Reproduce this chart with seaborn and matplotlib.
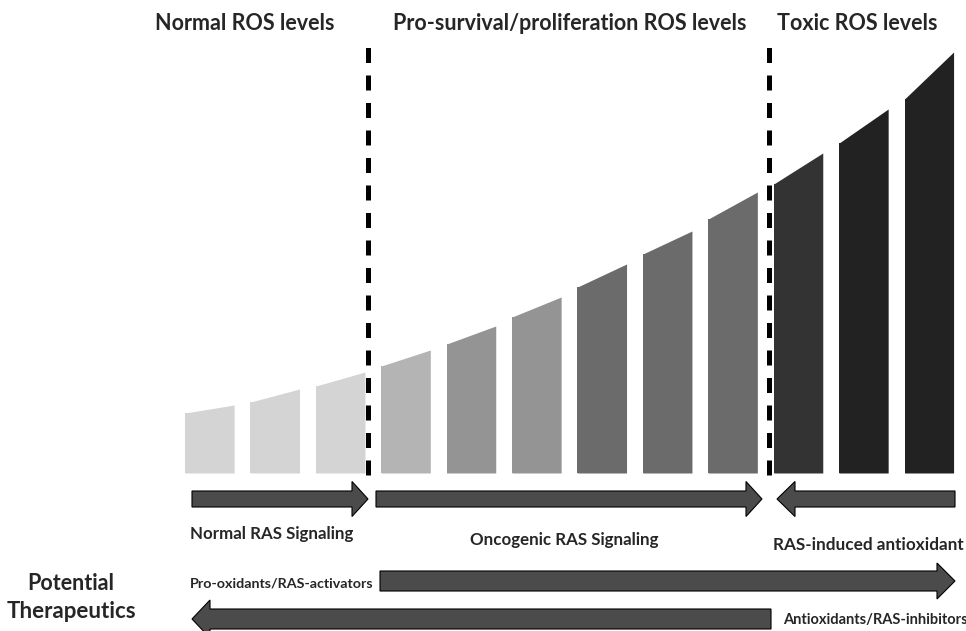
import numpy as np
import matplotlib.pyplot as plt
import seaborn as sns
from matplotlib.patches import FancyArrow

# niveles de ROS (alto del borde izquierdo y derecho de cada barra)
etapas = [str(i) for i in range(1, 13)]
ros_izq = [60, 71, 87, 107, 129, 156, 186, 219, 254, 289, 330, 374]
ros_der = [68, 84, 101, 123, 147, 176, 209, 242, 281, 320, 364, 421]
colores = ["#d4d4d4", "#d4d4d4", "#d4d4d4", "#b4b4b4", "#949494", "#949494",
           "#6b6b6b", "#6b6b6b", "#6b6b6b", "#333333", "#222222", "#222222"]

titulos = ["Normal ROS levels", "Pro-survival/proliferation ROS levels", "Toxic ROS levels"]
limites_fase = [2.42, 8.55]

sns.set_theme(style="white")
plt.rcParams["font.family"] = ["Lato", "DejaVu Sans"]

fig = plt.figure(figsize=(9.66, 6.31), dpi=100)

# barras
ax = fig.add_axes([0.1831, 0.2504, 0.8125, 0.6973])
ancho = 0.75
sns.barplot(x=etapas, y=np.minimum(ros_izq, ros_der), hue=etapas, palette=colores,
            legend=False, width=ancho, saturation=1, linewidth=0, ax=ax)
for i, (hl, hr) in enumerate(zip(ros_izq, ros_der)):
    ax.fill_between([i - ancho / 2, i + ancho / 2], [0, 0], [hl, hr],
                    color=colores[i], linewidth=0)
ax.set_xlim(-0.5, 11.5)
ax.set_ylim(0, 440)
ax.axis("off")

# lineas punteadas entre fases
for xl in limites_fase:
    ax.plot([xl, xl], [-2, 428], color="black", lw=3.6, dashes=(3, 2.5),
            clip_on=False)

# capa de anotaciones en pixeles
ov = fig.add_axes([0, 0, 1, 1])
ov.set_xlim(0, 966)
ov.set_ylim(631, 0)
ov.axis("off")

for t, xc in zip(titulos, [245, 570, 857]):
    ov.text(xc, 30, t, ha="center", va="baseline", fontsize=15.5, fontweight="bold")


def flecha(x0, x1, y, w, hw, hl):
    ov.add_patch(FancyArrow(x0, y, x1 - x0, 0, width=w, head_width=hw, head_length=hl,
                            length_includes_head=True, facecolor="#4b4b4b",
                            edgecolor="black", linewidth=0.8, clip_on=False))


flecha(192, 368, 499, 16, 35, 16)
flecha(376, 762, 499, 16, 35, 16)
flecha(955, 777, 499, 16, 35, 18)
flecha(380, 955, 581, 20, 36, 18)
flecha(771, 192, 619, 20, 38, 18)

ov.text(190, 534, "Normal RAS Signaling", ha="left", va="center", fontsize=12.2, fontweight="bold")
ov.text(564, 540, "Oncogenic RAS Signaling", ha="center", va="center", fontsize=12.2, fontweight="bold")
ov.text(773, 545, "RAS-induced antioxidant", ha="left", va="center", fontsize=12.3, fontweight="bold")
ov.text(190, 583, "Pro-oxidants/RAS-activators", ha="left", va="center", fontsize=10.3, fontweight="bold")
ov.text(783, 620, "Antioxidants/RAS-inhibitors", ha="left", va="center", fontsize=10.5, fontweight="bold")
ov.text(71, 583, "Potential", ha="center", va="center", fontsize=15.5, fontweight="bold")
ov.text(71, 612, "Therapeutics", ha="center", va="center", fontsize=16, fontweight="bold")

fig.savefig("out.png", dpi=100)
